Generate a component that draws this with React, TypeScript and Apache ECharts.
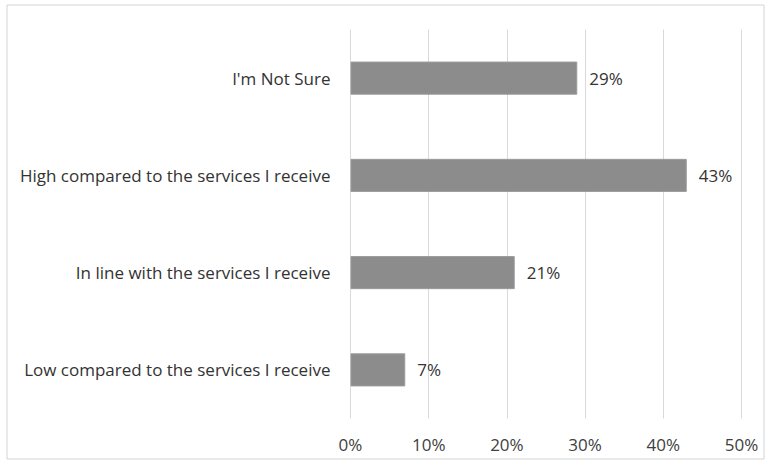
import React, { useEffect, useRef } from "react";
import * as echarts from "echarts";

const categories = [
  "Low compared to the services I receive",
  "In line with the services I receive",
  "High compared to the services I receive",
  "I'm Not Sure",
];
const values = [7, 21, 43, 29];
const axisMax = 50;
const axisInterval = 10;

export default function App() {
  const ref = useRef<HTMLDivElement>(null);
  useEffect(() => {
    const chart = echarts.init(ref.current!, null, { renderer: "svg" });
    chart.setOption({
      animation: false,
      backgroundColor: "#ffffff",
      textStyle: { fontFamily: "Open Sans" },
      graphic: [
        {
          type: "rect",
          shape: { x: 7, y: 5, width: 757, height: 454 },
          style: { fill: "none", stroke: "#d4d4d4", lineWidth: 1 },
          silent: true,
        },
      ],
      grid: { left: 350.5, right: 27.5, top: 29.5, bottom: 51.5 },
      xAxis: {
        type: "value",
        min: 0,
        max: axisMax,
        interval: axisInterval,
        axisLabel: {
          formatter: "{value}%",
          color: "#404040",
          fontSize: 17,
          margin: 17,
        },
        axisLine: { show: false },
        axisTick: { show: false },
        splitLine: { show: true, lineStyle: { color: "#d9d9d9", width: 1 } },
      },
      yAxis: {
        type: "category",
        data: categories,
        axisLine: { show: false },
        axisTick: { show: false },
        axisLabel: { color: "#333", fontSize: 17, margin: 20 },
      },
      series: [
        {
          type: "bar",
          data: values,
          barWidth: "34%",
          itemStyle: { color: "#8c8c8c", borderColor: "#9a9a9a", borderWidth: 1 },
          label: {
            show: true,
            position: "right",
            distance: 12,
            formatter: "{c}%",
            color: "#333",
            fontSize: 17,
          },
        },
      ],
    });
    return () => chart.dispose();
  }, []);
  return (
    <div
      ref={ref}
      style={{ position: "fixed", left: 0, top: 0, width: 769, height: 470 }}
    />
  );
}
